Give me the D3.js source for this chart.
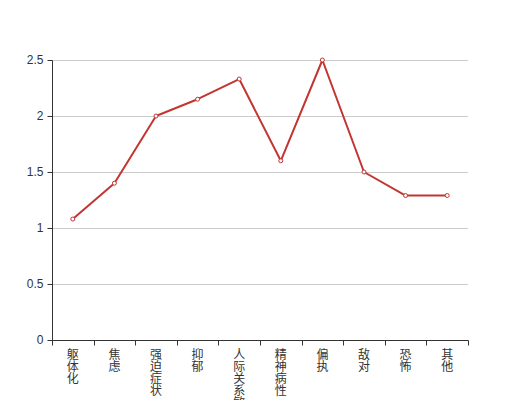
<!DOCTYPE html>
<html><head><meta charset="utf-8">
<script src="https://cdn.jsdelivr.net/npm/d3@7/dist/d3.min.js"></script>
<style>body{margin:0;background:#fff}svg{display:block}</style>
</head><body>
<svg id="c" width="520" height="400"></svg>
<script>
const categories = ["躯体化","焦虑","强迫症状","抑郁","人际关系敏感","精神病性","偏执","敌对","恐怖","其他"];
const values = [1.08, 1.40, 2.00, 2.15, 2.33, 1.60, 2.50, 1.50, 1.29, 1.29];
const yTicks = [0, 0.5, 1, 1.5, 2, 2.5];

(function() {
const svg = d3.select("#c");
const pl = 52, pr = 468, pt = 60, pb = 340;
const x = d3.scaleBand().domain(categories).range([pl, pr]);
const y = d3.scaleLinear().domain([0, 2.5]).range([pb, pt]);
const font = "'Liberation Sans', 'Noto Sans CJK SC', sans-serif";

// grid
svg.append("g").selectAll("line").data(yTicks.filter(d => d > 0)).join("line")
  .attr("x1", pl).attr("x2", pr)
  .attr("y1", d => y(d) + 0.5).attr("y2", d => y(d) + 0.5)
  .attr("stroke", "#ccc").attr("stroke-width", 1);

// y axis
const ya = svg.append("g").attr("transform", `translate(${pl + 0.5},0)`)
  .call(d3.axisLeft(y).tickValues(yTicks).tickSize(5).tickPadding(4).tickFormat(d => String(d)));
ya.select(".domain").attr("stroke", "#333").attr("d", `M0,${pb + 0.5}V${pt + 0.5}`);
ya.selectAll(".tick line").attr("stroke", "#333");
ya.selectAll(".tick text").attr("fill", "#333").style("font-family", font).style("font-size", "12px");

// x axis
const xa = svg.append("g").attr("transform", `translate(0,${pb + 0.5})`);
xa.append("line").attr("x1", pl).attr("x2", pr + 0.5).attr("stroke", "#333");
const bounds = categories.map(c => x(c)).concat([pr]);
xa.selectAll("line.tk").data(bounds).join("line").attr("class", "tk")
  .attr("x1", d => Math.round(d) + 0.5).attr("x2", d => Math.round(d) + 0.5)
  .attr("y1", 0).attr("y2", 5).attr("stroke", "#333");
const lbl = xa.selectAll("text").data(categories).join("text")
  .attr("x", d => x(d) + x.bandwidth() / 2)
  .attr("y", 18)
  .attr("text-anchor", "middle")
  .attr("fill", "#333")
  .style("font-family", font).style("font-size", "12px");
lbl.each(function(d) {
  const t = d3.select(this);
  Array.from(d).forEach((ch, i) => {
    t.append("tspan").attr("x", x(d) + x.bandwidth() / 2).attr("dy", i === 0 ? 0 : 12).text(ch);
  });
});

// line
const line = d3.line().x((d, i) => x(categories[i]) + x.bandwidth() / 2).y(d => y(d));
svg.append("path").datum(values).attr("d", line)
  .attr("fill", "none").attr("stroke", "#c23531").attr("stroke-width", 2).attr("stroke-linejoin", "round");
svg.append("g").selectAll("circle").data(values).join("circle")
  .attr("cx", (d, i) => x(categories[i]) + x.bandwidth() / 2)
  .attr("cy", d => y(d)).attr("r", 2)
  .attr("fill", "#fff").attr("stroke", "#c23531").attr("stroke-width", 1);
})();
</script>
</body></html>
